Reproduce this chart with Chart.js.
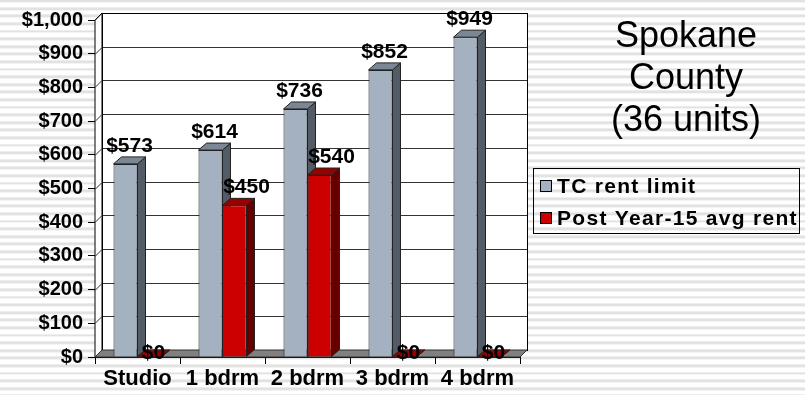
<!DOCTYPE html>
<html>
<head>
<meta charset="utf-8">
<script src="https://cdn.jsdelivr.net/npm/chart.js@4.4.0/dist/chart.umd.min.js"></script>
<style>
  html, body { margin: 0; padding: 0; }
  body {
    width: 805px; height: 395px; overflow: hidden;
    background: repeating-linear-gradient(to bottom, #ffffff 0px, #ffffff 4.8px, #e2e2e2 4.8px, #e2e2e2 7.6px);
    background-position: 0 2.4px;
  }
  #wrap { position: relative; width: 805px; height: 395px; }
</style>
</head>
<body>
<div id="wrap"><canvas id="rentChart" width="805" height="395"></canvas></div>
<script>
// Rents by unit size
const unitTypes = ["Studio", "1 bdrm", "2 bdrm", "3 bdrm", "4 bdrm"];
const tcRentLimit = [573, 614, 736, 852, 949];
const postYear15Rent = [0, 450, 540, 0, 0];
const seriesNames = ["TC rent limit", "Post Year-15 avg rent"];
const titleLines = ["Spokane", "County", "(36 units)"];
const yMax = 1000;
const yStep = 100;

const FONT = '"Liberation Sans", Arial, sans-serif';
const WALL = { dx: 7, dy: 7 };   // depth of walls/floor
const DEPTH = { dx: 8, dy: 7 };  // depth of the columns
const faces = [
  { front: "#a4b1c1", side: "#525b66", top: "#7b8794" },
  { front: "#cc0000", side: "#660000", top: "#990000" }
];
const labelShift = [4, 12];

const money = v => "$" + v.toLocaleString("en-US");

function poly(ctx, pts, fill, stroke) {
  ctx.beginPath();
  ctx.moveTo(pts[0][0], pts[0][1]);
  for (let i = 1; i < pts.length; i++) ctx.lineTo(pts[i][0], pts[i][1]);
  ctx.closePath();
  if (fill) { ctx.fillStyle = fill; ctx.fill(); }
  if (stroke) { ctx.strokeStyle = stroke; ctx.stroke(); }
}

// walls, floor and the hidden faces of the columns
const box3d = {
  id: "box3d",
  beforeDatasetsDraw(chart) {
    const { ctx, chartArea: { left, right, top, bottom }, scales: { y } } = chart;
    const { dx, dy } = WALL;
    ctx.save();
    ctx.lineWidth = 1;
    poly(ctx, [[left, top], [left + dx, top - dy], [left + dx, bottom - dy], [left, bottom]], "#ffffff", "#000");
    ctx.fillStyle = "#ffffff";
    ctx.fillRect(left + dx, top - dy, right - left, bottom - top);

    for (let v = yStep; v <= yMax; v += yStep) {
      const yy = Math.round(y.getPixelForValue(v)) + 0.5;
      ctx.beginPath();
      ctx.moveTo(left, yy);
      ctx.lineTo(left + dx, yy - dy);
      ctx.lineTo(right + dx, yy - dy);
      ctx.strokeStyle = "#333";
      ctx.stroke();
    }
    ctx.strokeStyle = "#000";
    ctx.strokeRect(left + dx + 0.5, top - dy + 0.5, right - left, bottom - top);

    poly(ctx, [[left, bottom], [left + dx, bottom - dy], [right + dx, bottom - dy], [right, bottom]], "#808080", "#333");

    const metas = chart.data.datasets.map((d, i) => chart.getDatasetMeta(i));
    metas.forEach((meta, i) => {
      meta.data.forEach(bar => {
        const x2 = bar.x + bar.width / 2;
        poly(ctx, [[x2, bar.y], [x2 + DEPTH.dx, bar.y - DEPTH.dy], [x2 + DEPTH.dx, bar.base - DEPTH.dy], [x2, bar.base]], faces[i].side, "#222");
      });
    });
    metas.forEach((meta, i) => {
      meta.data.forEach(bar => {
        const x1 = bar.x - bar.width / 2, x2 = bar.x + bar.width / 2;
        poly(ctx, [[x1, bar.y], [x1 + DEPTH.dx, bar.y - DEPTH.dy], [x2 + DEPTH.dx, bar.y - DEPTH.dy], [x2, bar.y]], faces[i].top, "#222");
      });
    });
    ctx.restore();
  },
  afterDatasetsDraw(chart) {
    const { ctx } = chart;
    ctx.save();
    ctx.font = "bold 21px " + FONT;
    ctx.fillStyle = "#000";
    ctx.textAlign = "center";
    ctx.textBaseline = "alphabetic";
    chart.data.datasets.forEach((ds, i) => {
      chart.getDatasetMeta(i).data.forEach((bar, j) => {
        const v = ds.data[j];
        if (v === 0) ctx.fillText(money(v), bar.x + 4, bar.base + 2);
        else ctx.fillText(money(v), bar.x + labelShift[i], bar.y - 12);
      });
    });
    ctx.restore();
  },
  afterDraw(chart) {
    const { ctx } = chart;
    ctx.save();
    ctx.fillStyle = "#000";
    ctx.textAlign = "center";
    ctx.textBaseline = "alphabetic";
    ctx.font = "36px " + FONT;
    titleLines.forEach((t, i) => ctx.fillText(t, 686, 47 + i * 42));

    // legend
    ctx.lineWidth = 1;
    ctx.strokeStyle = "#000";
    ctx.strokeRect(533.5, 168.5, 266, 65);
    ctx.font = "bold 21px " + FONT;
    ctx.letterSpacing = "1.3px";
    ctx.textAlign = "left";
    ctx.textBaseline = "middle";
    chart.data.datasets.forEach((ds, i) => {
      const cy = 186 + i * 32;
      ctx.fillStyle = faces[i].front;
      ctx.fillRect(540, cy - 6, 12, 12);
      ctx.strokeRect(540.5, cy - 5.5, 11, 11);
      ctx.fillStyle = "#000";
      ctx.fillText(ds.label, 557, cy + 1);
    });
    ctx.restore();
  }
};

const rentChart = new Chart(document.getElementById("rentChart"), {
  type: "bar",
  data: {
    labels: unitTypes,
    datasets: [
      { label: seriesNames[0], data: tcRentLimit, backgroundColor: faces[0].front },
      { label: seriesNames[1], data: postYear15Rent, backgroundColor: faces[1].front }
    ]
  },
  options: {
    responsive: false,
    animation: false,
    devicePixelRatio: 1,
    layout: { padding: { top: 20, right: 285, bottom: 0, left: 0 } },
    datasets: {
      bar: {
        categoryPercentage: 0.565,
        barPercentage: 1.0,
        borderWidth: 1,
        borderColor: "#222"
      }
    },
    scales: {
      x: {
        grid: { drawOnChartArea: false, offset: true, tickLength: 7, color: "#000" },
        border: { color: "#000" },
        ticks: { color: "#000", padding: 2, maxRotation: 0, autoSkip: false, font: { family: FONT, size: 22, weight: "bold" } },
        afterFit: s => { s.height = 38; }
      },
      y: {
        min: 0,
        max: yMax,
        grid: { drawOnChartArea: false, tickLength: 7, color: "#000" },
        border: { color: "#000" },
        ticks: {
          stepSize: yStep,
          color: "#000",
          padding: 5,
          font: { family: FONT, size: 20, weight: "bold" },
          callback: v => money(v)
        },
        afterFit: s => { s.width = 95; }
      }
    },
    plugins: {
      legend: { display: false },
      tooltip: { enabled: false }
    }
  },
  plugins: [box3d]
});
</script>
</body>
</html>
